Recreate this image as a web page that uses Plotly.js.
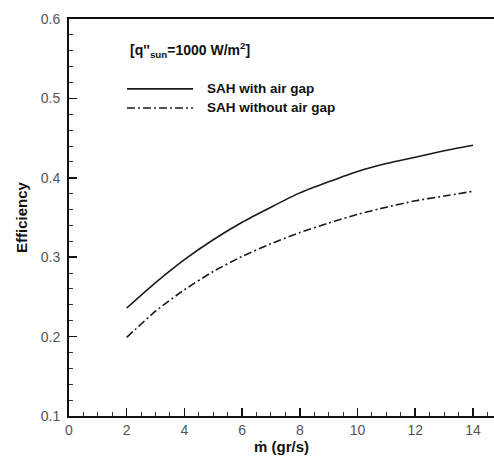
<!DOCTYPE html>
<html>
<head>
<meta charset="utf-8">
<script src="https://cdn.plot.ly/plotly-3.0.1.min.js"></script>
<style>html,body{margin:0;padding:0;background:#fff;}#chart{width:494px;height:460px;}</style>
</head>
<body>
<div id="chart"></div>
<script>
var massFlow = [2, 3, 4, 5, 6, 7, 8, 9, 10, 11, 12, 13, 14];
var effWithGap = [0.236, 0.268, 0.297, 0.322, 0.344, 0.363, 0.381, 0.395, 0.408, 0.418, 0.426, 0.434, 0.441];
var effWithoutGap = [0.199, 0.232, 0.259, 0.282, 0.301, 0.317, 0.331, 0.343, 0.354, 0.363, 0.371, 0.377, 0.383];
var seriesNames = ["SAH with air gap", "SAH without air gap"];
var xTicks = [0, 2, 4, 6, 8, 10, 12, 14];
var yTicks = [0.1, 0.2, 0.3, 0.4, 0.5, 0.6];

var lineColor = "#1a1a1a";
var dashDot = "8px,3px,2px,3px";

var traces = [
  {x: massFlow, y: effWithGap, mode: "lines", name: seriesNames[0],
   line: {color: lineColor, width: 1.6, shape: "spline", smoothing: 0.6}},
  {x: massFlow, y: effWithoutGap, mode: "lines", name: seriesNames[1],
   line: {color: lineColor, width: 1.6, dash: dashDot, shape: "spline", smoothing: 0.6}}
];

var axisFont = {family: "Liberation Sans, Arial, sans-serif", size: 14, color: "#555"};
var titleFont = {family: "Liberation Sans, Arial, sans-serif", size: 15, color: "#111"};

var layout = {
  width: 494, height: 460,
  margin: {l: 69, r: 0, t: 19, b: 44},
  paper_bgcolor: "#fff", plot_bgcolor: "#fff",
  showlegend: false,
  xaxis: {
    range: [0, 14.73], tickvals: xTicks, ticktext: xTicks.map(String),
    showgrid: false, zeroline: false, showline: true, linewidth: 2, linecolor: "#111",
    mirror: true, ticks: "inside", ticklen: 8, tickwidth: 1.5, tickcolor: "#111",
    minor: {dtick: 0.5, ticks: "inside", ticklen: 4, tickwidth: 1, tickcolor: "#333", showgrid: false},
    tickfont: axisFont,
    title: {text: "<b>ṁ (gr/s)</b>", font: titleFont, standoff: 4}
  },
  yaxis: {
    range: [0.1, 0.6], tickvals: yTicks, ticktext: yTicks.map(function(v){return v.toFixed(1);}),
    showgrid: false, zeroline: false, showline: true, linewidth: 2, linecolor: "#111",
    mirror: false, ticks: "inside", ticklen: 8, tickwidth: 1.5, tickcolor: "#111",
    minor: {dtick: 0.02, ticks: "inside", ticklen: 4, tickwidth: 1, tickcolor: "#333", showgrid: false},
    tickfont: axisFont, ticklabelstandoff: 4,
    title: {text: "<b>Efficiency</b>", font: titleFont, standoff: 9}
  },
  shapes: [
    {type: "line", xref: "paper", yref: "paper", x0: 0.1365, x1: 0.292, y0: 0.824, y1: 0.824,
     line: {color: lineColor, width: 1.6}},
    {type: "line", xref: "paper", yref: "paper", x0: 0.1365, x1: 0.292, y0: 0.776, y1: 0.776,
     line: {color: lineColor, width: 1.6, dash: dashDot}}
  ],
  annotations: [
    {xref: "paper", yref: "paper", x: 0.139, y: 0.922, xanchor: "left", yanchor: "middle",
     text: "<b>[q''<sub>sun</sub>=1000 W/m<sup>2</sup>]</b>", showarrow: false,
     font: {family: "Liberation Sans, Arial, sans-serif", size: 14, color: "#111"}},
    {xref: "paper", yref: "paper", x: 0.32, y: 0.826, xanchor: "left", yanchor: "middle",
     text: "<b>" + seriesNames[0] + "</b>", showarrow: false,
     font: {family: "Liberation Sans, Arial, sans-serif", size: 13.5, color: "#111"}},
    {xref: "paper", yref: "paper", x: 0.32, y: 0.778, xanchor: "left", yanchor: "middle",
     text: "<b>" + seriesNames[1] + "</b>", showarrow: false,
     font: {family: "Liberation Sans, Arial, sans-serif", size: 13.5, color: "#111"}}
  ]
};

Plotly.newPlot("chart", traces, layout, {displayModeBar: false, staticPlot: true});
</script>
</body>
</html>
